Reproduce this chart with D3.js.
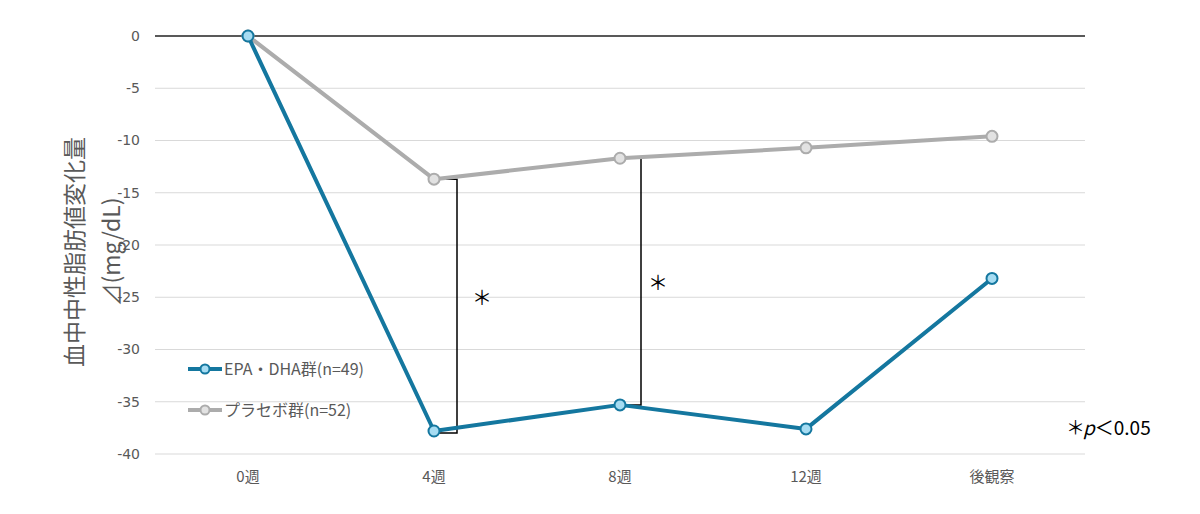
<!DOCTYPE html>
<html><head><meta charset="utf-8">
<script src="https://cdn.jsdelivr.net/npm/d3@7"></script>
<style>body{margin:0;background:#fff;}svg{display:block;font-family:"Noto Sans CJK JP","Noto Sans",sans-serif;}</style>
</head><body><svg id="c" width="1200" height="514"></svg>
<script>
const categories = ["0週","4週","8週","12週","後観察"];
const epaValues = [0, -37.8, -35.3, -37.6, -23.2];
const placeboValues = [0, -13.7, -11.7, -10.7, -9.6];
const yTicks = [0,-5,-10,-15,-20,-25,-30,-35,-40];
const seriesNames = ["EPA・DHA群(n=49)","プラセボ群(n=52)"];
const sigPairs = [1, 2];

(function(){
const svg = d3.select("#c");
const pLeft = 155, pRight = 1085, pTop = 36, pBottom = 454;
const x = d3.scaleBand().domain(categories).range([pLeft, pRight]);
const y = d3.scaleLinear().domain([-40, 0]).range([pBottom, pTop]);
const cx = d => x(d) + x.bandwidth()/2;

svg.append("g").selectAll("line").data(yTicks.filter(t=>t!==0)).join("line")
  .attr("x1", pLeft).attr("x2", pRight).attr("y1", d=>y(d)).attr("y2", d=>y(d))
  .attr("stroke", "#d9d9d9").attr("stroke-width", 1);
svg.append("line").attr("x1", pLeft).attr("x2", pRight).attr("y1", y(0)).attr("y2", y(0))
  .attr("stroke", "#595959").attr("stroke-width", 2);

const yAxis = d3.axisLeft(y).tickValues(yTicks).tickSize(0).tickPadding(0).tickFormat(d => String(d));
const ya = svg.append("g").attr("transform", `translate(${pLeft-15},0)`).call(yAxis);
ya.select(".domain").remove();
ya.selectAll("text").attr("fill", "#595959").attr("font-size", 14).attr("font-family", "'DejaVu Sans', sans-serif");

const xAxis = d3.axisBottom(x).tickSize(0).tickPadding(0);
const xa = svg.append("g").attr("transform", `translate(0,${pBottom+17})`).call(xAxis);
xa.select(".domain").remove();
xa.selectAll("text").attr("fill", "#595959").attr("font-size", 15).attr("dy", "0.71em")
  .attr("font-family", "'Noto Sans CJK JP',sans-serif");

const tt = svg.append("text").attr("transform", "translate(75,252) rotate(-90)")
  .attr("text-anchor", "middle").attr("fill", "#595959").attr("font-size", 23);
tt.append("tspan").attr("x", 0).attr("dy", "0.35em").text("血中中性脂肪値変化量");
tt.append("tspan").attr("x", 0).attr("dy", "1.6em").text("⊿(mg/dL)");

sigPairs.forEach((i, k) => {
  const c = categories[i];
  const xb = cx(c) + (k===0 ? 23 : 21);
  const y1 = y(placeboValues[i]), y2 = y(epaValues[i]) + (k===0?2:0);
  svg.append("path").attr("d", `M${cx(c)},${y1}H${xb}V${y2}H${cx(c)}`)
    .attr("fill", "none").attr("stroke", "#000").attr("stroke-width", 1.5);
  svg.append("text").attr("x", xb + (k===0?25:17)).attr("y", (k===0?298:283)).attr("dy","0.35em")
    .attr("text-anchor","middle").attr("font-size", 20).attr("fill","#000").text("＊");
});

const line = d3.line().x((d,i)=>cx(categories[i])).y(d=>y(d));
const series = [
  {vals: placeboValues, stroke: "#acacac", fill: "#e2e2e2", mstroke: "#acacac"},
  {vals: epaValues, stroke: "#14779f", fill: "#a6dcf2", mstroke: "#14779f"}
];
series.forEach(s => {
  svg.append("path").datum(s.vals).attr("d", line).attr("fill","none")
    .attr("stroke", s.stroke).attr("stroke-width", 4).attr("stroke-linejoin","round");
  svg.append("g").selectAll("circle").data(s.vals).join("circle")
    .attr("cx", (d,i)=>cx(categories[i])).attr("cy", d=>y(d)).attr("r", 5.5)
    .attr("fill", s.fill).attr("stroke", s.mstroke).attr("stroke-width", 2);
});

const leg = [
  {name: seriesNames[0], stroke: "#14779f", fill: "#a6dcf2", yy: 369},
  {name: seriesNames[1], stroke: "#acacac", fill: "#e2e2e2", yy: 410}
];
leg.forEach(l => {
  svg.append("line").attr("x1", 188).attr("x2", 222).attr("y1", l.yy).attr("y2", l.yy)
    .attr("stroke", l.stroke).attr("stroke-width", 4);
  svg.append("circle").attr("cx", 205).attr("cy", l.yy).attr("r", 4.5)
    .attr("fill", l.fill).attr("stroke", l.stroke).attr("stroke-width", 2);
  svg.append("text").attr("x", 224).attr("y", l.yy).attr("dy", "0.35em")
    .attr("font-size", 16).attr("fill", "#595959").text(l.name);
});

const pt = svg.append("text").attr("x", 1066).attr("y", 428).attr("dy","0.35em")
  .attr("font-size", 19).attr("fill", "#000").attr("font-family","'Noto Sans CJK JP',sans-serif");
pt.append("tspan").text("＊");
pt.append("tspan").attr("font-style","italic").attr("dx", -2).text("p");
pt.append("tspan").text("＜0.05");
})();
</script></body></html>
